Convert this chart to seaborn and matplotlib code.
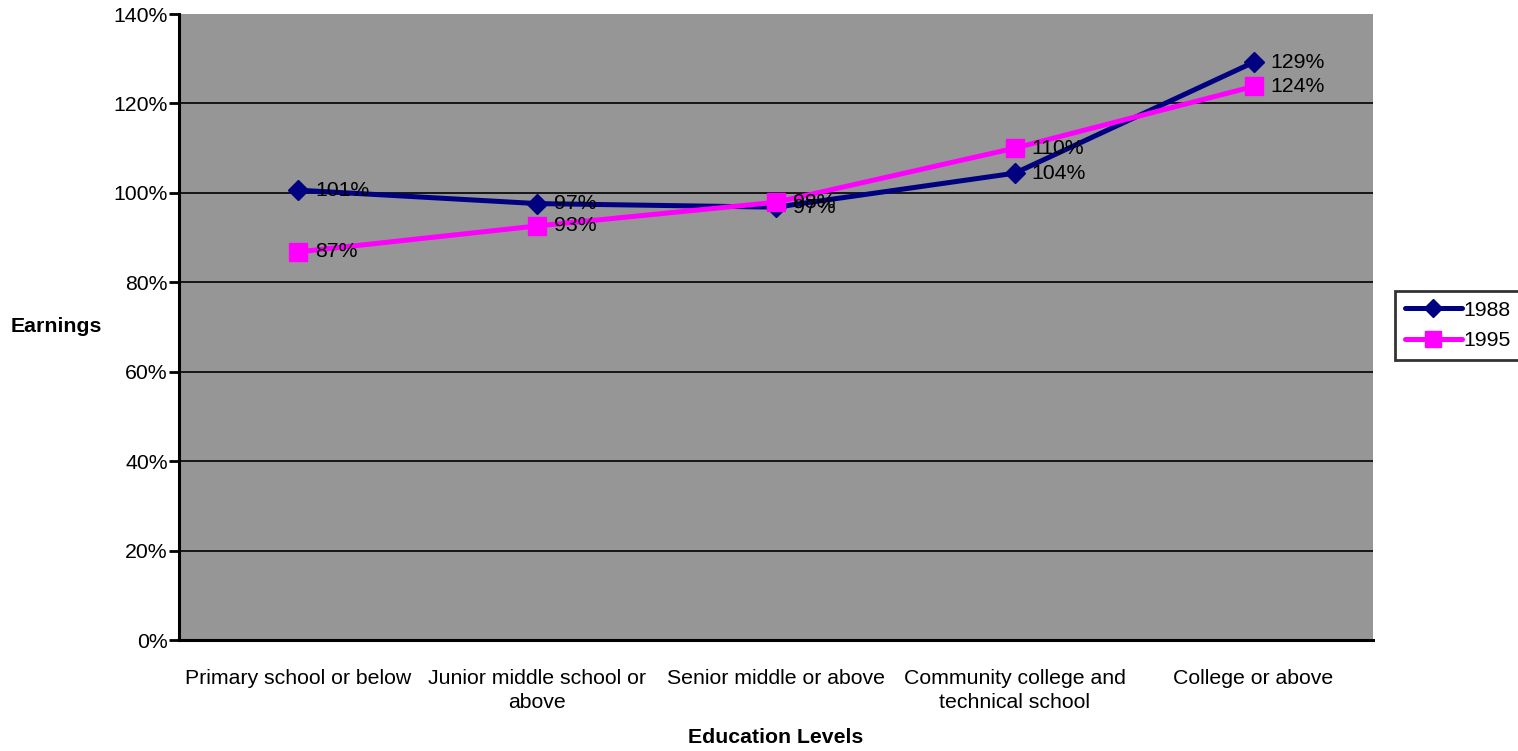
import matplotlib
matplotlib.use("Agg")
import matplotlib.pyplot as plt
import seaborn as sns
import pandas as pd
import numpy as np

# Relative earnings by education level (percent)
categories = [
    "Primary school or below",
    "Junior middle school or\nabove",
    "Senior middle or above",
    "Community college and\ntechnical school",
    "College or above",
]
years = ["1988", "1995"]
earnings_1988 = [100.6, 97.6, 96.8, 104.4, 129.2]
earnings_1995 = [86.8, 92.6, 97.9, 110.0, 123.8]
labels_1988 = ["101%", "97%", "97%", "104%", "129%"]
labels_1995 = ["87%", "93%", "98%", "110%", "124%"]

sns.set_theme(style="white")
plt.rcParams["font.family"] = ["Liberation Sans", "DejaVu Sans"]
plt.rcParams.update({"text.color": "black", "axes.labelcolor": "black",
                     "xtick.color": "black", "ytick.color": "black"})

df = pd.DataFrame({
    "pos": list(range(len(categories))) * 2,
    "value": earnings_1988 + earnings_1995,
    "year": [years[0]] * len(categories) + [years[1]] * len(categories),
})

colors = {"1988": "#000080", "1995": "#FF00FF"}
markers = {"1988": "D", "1995": "s"}

fig = plt.figure(figsize=(15.18, 7.51), dpi=100)
ax = fig.add_axes([179 / 1518, 1 - 640 / 751, (1373 - 179) / 1518, (640 - 14) / 751])
ax.set_facecolor("#969696")

sns.lineplot(data=df, x="pos", y="value", hue="year", style="year",
             palette=colors, markers=markers, dashes=False, linewidth=3.6,
             markersize=11, markeredgewidth=1, ax=ax, legend=False, zorder=3)
for ln, yr in zip(ax.lines, years):
    ln.set_markeredgecolor(colors[yr])
    ln.set_markersize(10 if yr == "1988" else 13.5)

# Data labels to the right of each point
fs = 15.3
for yr, vals, labs in [("1988", earnings_1988, labels_1988), ("1995", earnings_1995, labels_1995)]:
    for i, (v, t) in enumerate(zip(vals, labs)):
        ax.annotate(t, (i, v), xytext=(12, 0), textcoords="offset points",
                    va="center", ha="left", fontsize=fs, color="black", zorder=4)

ax.set_xlim(-0.5, len(categories) - 0.5)
ax.set_ylim(0, 140)
yt = np.arange(0, 141, 20)
ax.set_yticks(yt)
ax.set_yticklabels([f"{v}%" for v in yt], fontsize=fs)
ax.yaxis.grid(True, color="black", linewidth=1.2)
ax.set_axisbelow(True)
ax.yaxis.get_gridlines()[-1].set_visible(False)
ax.yaxis.get_gridlines()[0].set_visible(False)

ax.set_xticks(range(len(categories)))
ax.set_xticklabels(categories, fontsize=fs, linespacing=1.3)
ax.set_xticks(np.arange(-0.5, len(categories)), minor=True)
ax.tick_params(axis="x", which="major", length=0, pad=21)
ax.tick_params(axis="x", which="minor", length=7, width=2, direction="out", color="black")
ax.tick_params(axis="y", length=7, width=2, direction="out", color="black", pad=1, left=True)

for s in ["top", "right"]:
    ax.spines[s].set_visible(False)
for s in ["left", "bottom"]:
    ax.spines[s].set_color("black")
    ax.spines[s].set_linewidth(2.2)

ax.set_xlabel("Education Levels", fontsize=fs, fontweight="bold", labelpad=12)
ax.set_ylabel("Earnings", fontsize=fs, fontweight="bold", rotation=0)
ax.yaxis.set_label_coords((56 - 179) / 1194, 0.5)
ax.yaxis.label.set_ha("center")
ax.yaxis.label.set_va("center")

handles = [plt.Line2D([], [], color=colors[y], marker=markers[y], linewidth=3.6,
                      markersize=(9 if y == "1988" else 11), markeredgecolor=colors[y])
           for y in years]
leg = fig.legend(handles, years, loc="upper left", bbox_to_anchor=(1395 / 1518, 1 - 291 / 751),
                 bbox_transform=fig.transFigure, fontsize=fs, frameon=True, fancybox=False,
                 edgecolor="black", handlelength=2.7, handletextpad=0.05, borderpad=0.45,
                 labelspacing=0.55, borderaxespad=0)
leg.get_frame().set_linewidth(2)

fig.savefig("out.png", dpi=100, facecolor="white")
